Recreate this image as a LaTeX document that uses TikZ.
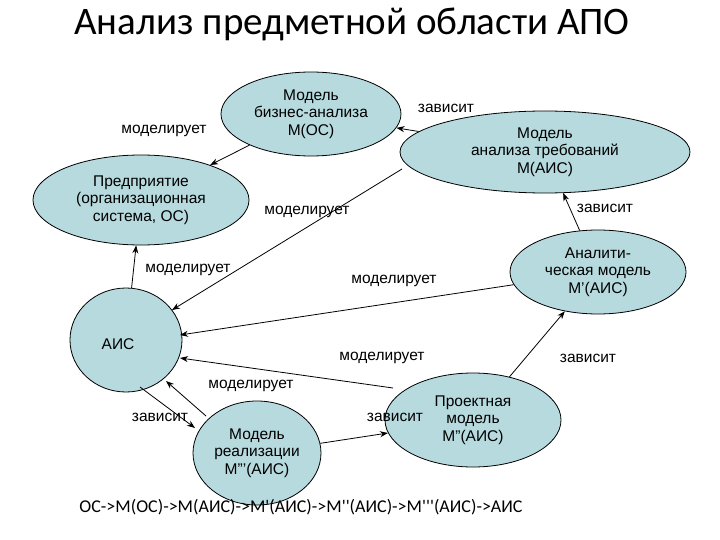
\documentclass[tikz,border=0pt]{standalone}
\usepackage{fontspec}
\setmainfont{Liberation Sans}
\newfontfamily\titlefont{Carlito}
\usetikzlibrary{shapes.geometric,arrows.meta}
\begin{document}
\begin{tikzpicture}[x=1pt,y=-1pt,
  ell/.style={ellipse,draw=black,line width=0.8pt,fill={rgb,255:red,182;green,218;blue,222},inner sep=0pt,align=center,font=\fontsize{15.5}{17.5}\selectfont},
  lab/.style={font=\fontsize{15.5}{17.5}\selectfont},
  arr/.style={-{Stealth[length=8pt,width=6pt]},line width=0.8pt}]
\useasboundingbox (0,0) rectangle (720,540);
\node[font=\titlefont\fontsize{39}{42}\selectfont] (title) at (352,24) {Анализ предметной области АПО};
\node[ell,minimum width=180,minimum height=84] (mos) at (311,114) {Модель\\бизнес-анализа\\М(ОС)};
\node[ell,minimum width=216,minimum height=90] (os) at (141,200) {Предприятие\\(организационная\\система, ОС)};
\node[ell,minimum width=290,minimum height=82] (mais) at (545,152) {Модель\\анализа требований\\М(АИС)};
\node[ell,minimum width=176,minimum height=84] (m1) at (598,272) {Аналити-\\ческая модель\\М'(АИС)};
\node[ell,minimum width=112,minimum height=104] (ais) at (126,340) {};
\node[font=\fontsize{15.5}{17.5}\selectfont] (aist) at (118,344) {АИС};
\node[ell,minimum width=128,minimum height=104] (m3) at (257,453) {Модель\\реализации\\М'''(АИС)};
\node[ell,minimum width=176,minimum height=94] (m2) at (473,420) {Проектная\\модель\\М''(АИС)};
\coordinate (c1) at (402,169);
\coordinate (a1) at (172,310);
\coordinate (a2) at (180,335);
\coordinate (a3) at (180,358);
\coordinate (a4) at (166,381);
\coordinate (a5) at (140,387);
\coordinate (r1) at (206,416);
\coordinate (r2) at (195,428);
\coordinate (p1) at (393,388);
\draw[arr] (mos) -- (os);
\draw[arr] (mais) -- (mos);
\draw[arr] (m1) -- (mais);
\draw[arr] (c1) -- (a1);
\draw[arr] (ais) -- (os);
\draw[arr] (m1) -- (a2);
\draw[arr] (p1) -- (a3);
\draw[arr] (m2) -- (m1);
\draw[arr] (r1) -- (a4);
\draw[arr] (a5) -- (r2);
\draw[arr] (m3) -- (m2);
\node[lab] (l1) at (164,131) {моделирует};
\node[lab] (l2) at (446,108) {зависит};
\node[lab] (l3) at (307,212) {моделирует};
\node[lab] (l4) at (605,208) {зависит};
\node[lab] (l5) at (188,270) {моделирует};
\node[lab] (l6) at (394,281) {моделирует};
\node[lab] (l7) at (382,358) {моделирует};
\node[lab] (l8) at (588,358) {зависит};
\node[lab] (l9) at (251,386) {моделирует};
\node[lab] (l10) at (160,417) {зависит};
\node[lab] (l11) at (395,417) {зависит};
\node[font=\titlefont\fontsize{18}{21}\selectfont] (chain) at (301,507) {ОС->М(ОС)->М(АИС)->М'(АИС)->М''(АИС)->М'''(АИС)->АИС};
\end{tikzpicture}
\end{document}
